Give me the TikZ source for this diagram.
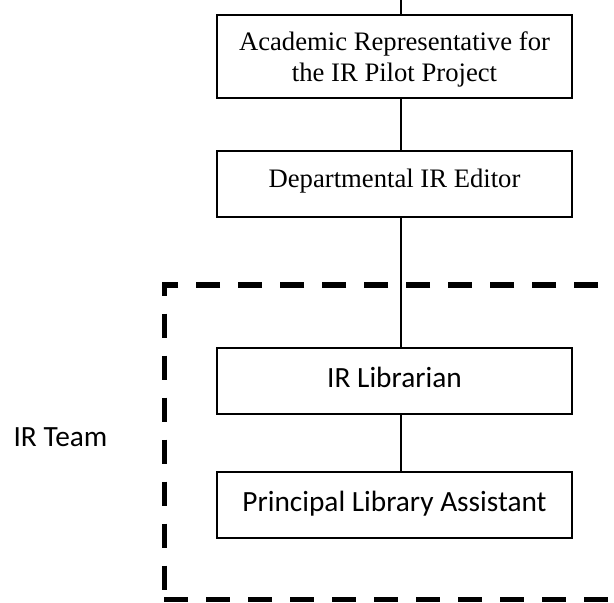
\documentclass[tikz,border=0pt]{standalone}
\usepackage{fontspec}
\setmainfont{Liberation Serif}
\newfontfamily\calibrifont{Carlito}
\usetikzlibrary{calc,positioning}
\tikzset{
  role node/.style={
    draw, rectangle, align=center, line width=0.55pt, inner sep=0pt,
    minimum width=133.1pt, minimum height=24.75pt,
    font=\fontsize{10}{11.6}\selectfont
  },
  team node/.style={
    role node, text height=7.7pt, text depth=3.2pt,
    font=\calibrifont\fontsize{11}{13.4}\selectfont
  },
  team frame/.style={
    line width=1.9pt, dash pattern=on 9pt off 6.75pt
  }
}

\begin{document}
\begin{tikzpicture}[x=0.375pt, y=-0.375pt, line width=0.45pt]
    \useasboundingbox (0,0) rectangle (614,602);
    \coordinate (spine) at (401,0);
    \draw (394.5,56.5) node[role node, minimum height=31.1pt, text height=20.5pt] (acadrep) {Academic Representative for\\the IR Pilot Project};
    \draw (394.5,184) node[role node, text height=6.8pt, text depth=4.55pt] (editor) {Departmental IR Editor};
    \draw (394.5,381) node[team node] (librarian) {IR Librarian};
    \draw (394.5,505) node[team node] (assistant) {Principal Library Assistant};
    \draw (13,446) node[anchor=base west, inner sep=0pt, font=\calibrifont\fontsize{11}{13.4}\selectfont] (irteam) {IR Team};
    \draw (spine) -- (acadrep.north -| spine);
    \draw (acadrep.south -| spine) -- (editor.north -| spine);
    \draw (editor.south -| spine) -- (librarian.north -| spine);
    \draw (librarian.south -| spine) -- (assistant.north -| spine);
    % dashed team frame, open to the right
    \draw[team frame, dash phase=9.75pt] (614,285) -- (164.5,285) -- (164.5,599.5);
    \draw[team frame] (164,599.5) -- (614,599.5);
\end{tikzpicture}
\end{document}
